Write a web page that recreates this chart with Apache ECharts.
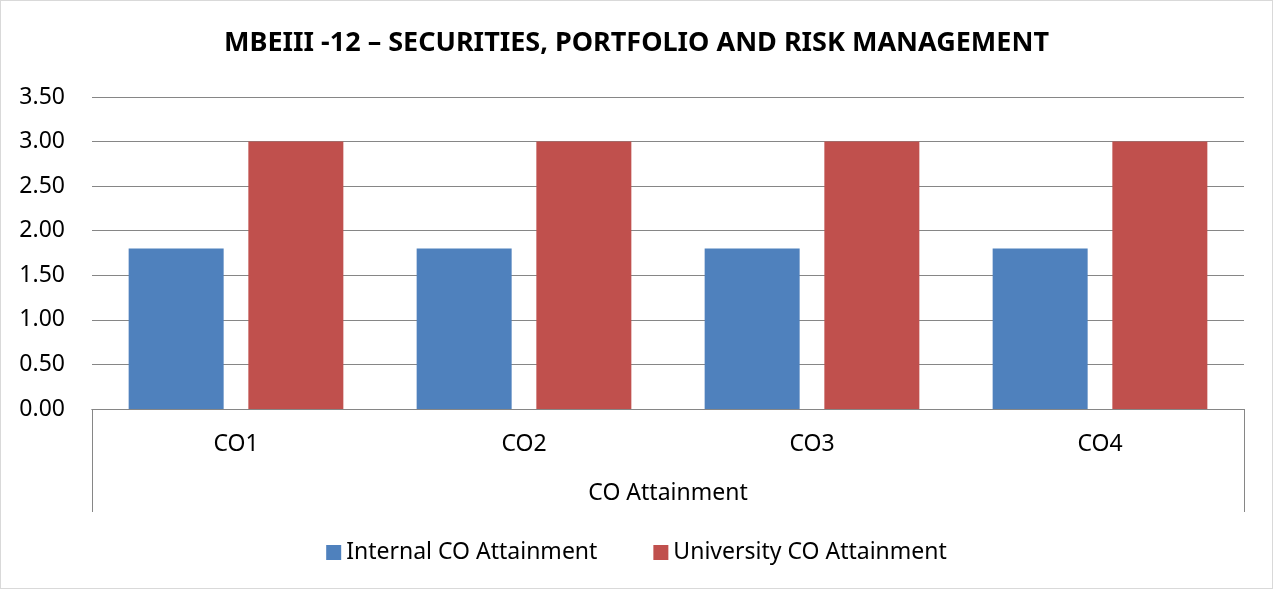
<!DOCTYPE html>
<html>
<head>
<meta charset="utf-8">
<title>CO Attainment</title>
<script src="https://cdn.jsdelivr.net/npm/echarts@6/dist/echarts.min.js"></script>
<style>
  html, body {
    margin: 0;
    padding: 0;
    background: #fff;
  }
  #chart {
    width: 1271px;
    height: 587px;
    border: 1px solid #d9d9d9;
  }
</style>
</head>
<body>
<div id="chart"></div>
<script>
// 数据
var categories = ["CO1", "CO2", "CO3", "CO4"];
var groupLabel = ["CO Attainment"];
var internalValues = [1.8, 1.8, 1.8, 1.8];
var universityValues = [3.0, 3.0, 3.0, 3.0];
var seriesNames = ["Internal CO Attainment", "University CO Attainment"];

var font = "Noto Sans";
var chart = echarts.init(document.getElementById("chart"));

var option = {
  animation: false,
  color: ["#4f81bd", "#c0504d"],
  title: {
    text: "MBEIII -12 \u2013 SECURITIES, PORTFOLIO AND RISK MANAGEMENT",
    left: "center",
    top: 24,
    textStyle: {
      fontFamily: font,
      fontSize: 27,
      fontWeight: "bold",
      color: "#000"
    }
  },
  legend: {
    data: seriesNames,
    top: 535,
    left: "center",
    icon: "rect",
    itemWidth: 15,
    itemHeight: 15,
    itemGap: 56,
    textStyle: {
      fontFamily: font,
      fontSize: 23,
      color: "#000"
    }
  },
  grid: {
    left: 91,
    right: 28,
    top: 96,
    bottom: 179
  },
  xAxis: [
    {
      type: "category",
      data: categories,
      axisLine: { lineStyle: { color: "#868686" } },
      axisTick: { show: false },
      axisLabel: {
        margin: 24,
        fontFamily: font,
        fontSize: 23,
        color: "#000"
      }
    },
    {
      type: "category",
      data: groupLabel,
      position: "bottom",
      axisLine: { lineStyle: { color: "#868686" } },
      axisTick: {
        show: true,
        length: 103,
        lineStyle: { color: "#868686" }
      },
      axisLabel: {
        margin: 73,
        fontFamily: font,
        fontSize: 23,
        color: "#000"
      }
    }
  ],
  yAxis: {
    type: "value",
    min: 0,
    max: 3.5,
    interval: 0.5,
    axisLine: { show: false },
    axisTick: { show: false },
    splitLine: { lineStyle: { color: "#868686" } },
    axisLabel: {
      margin: 27,
      fontFamily: font,
      fontSize: 23,
      color: "#000",
      formatter: function (v) {
        return v.toFixed(2);
      }
    }
  },
  series: [
    {
      name: seriesNames[0],
      type: "bar",
      xAxisIndex: 0,
      data: internalValues,
      barWidth: 95,
      barGap: "26%"
    },
    {
      name: seriesNames[1],
      type: "bar",
      xAxisIndex: 0,
      data: universityValues,
      barWidth: 95,
      barGap: "26%"
    }
  ]
};

chart.setOption(option);
window.addEventListener("resize", function () {
  chart.resize();
});
</script>
</body>
</html>
